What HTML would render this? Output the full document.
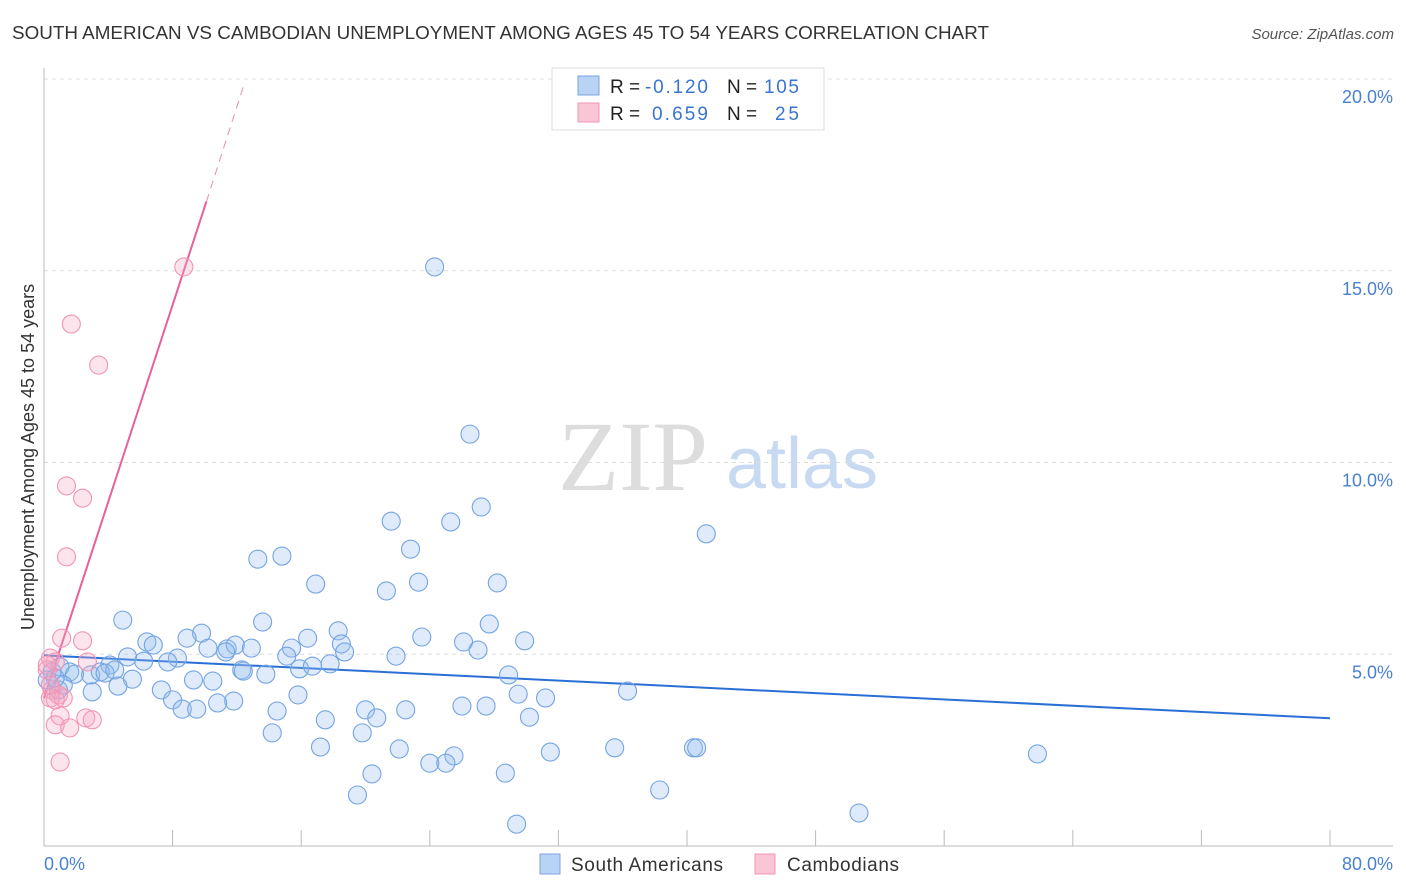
<!DOCTYPE html>
<html><head><meta charset="utf-8"><style>
body{margin:0;background:#fff;font-family:"Liberation Sans",sans-serif;}
svg{display:block}
</style></head><body>
<svg id="chart" width="1406" height="892" font-family="Liberation Sans, sans-serif">
<text x="12" y="39" font-size="18" fill="#333" textLength="977" lengthAdjust="spacingAndGlyphs">SOUTH AMERICAN VS CAMBODIAN UNEMPLOYMENT AMONG AGES 45 TO 54 YEARS CORRELATION CHART</text>
<text x="1394" y="39" font-size="15" fill="#555" font-style="italic" text-anchor="end">Source: ZipAtlas.com</text>
<g>
<text x="633" y="490" font-size="100" fill="#ddd" font-family="Liberation Serif, serif" text-anchor="middle">ZIP</text>
<text x="802" y="488" font-size="72" fill="#c8daf2" text-anchor="middle">atlas</text>
</g>
<g id="grid"></g>
<g id="axes"></g>
<g id="trends"></g>
<g id="points"></g>
<text transform="translate(34,457) rotate(-90)" font-size="18" fill="#333" text-anchor="middle">Unemployment Among Ages 45 to 54 years</text>
<text x="44" y="870" font-size="18" fill="#4a80d0">0.0%</text>
<text x="1393" y="870" font-size="18" fill="#4a80d0" text-anchor="end">80.0%</text>
<g>
<rect x="552" y="68" width="272" height="62" fill="#fff" stroke="#ddd"/>
<rect x="578" y="76" width="21" height="19" fill="#b9d3f5" stroke="#7aa6e0"/>
<rect x="578" y="103" width="21" height="19" fill="#fac5d5" stroke="#f095b5"/>
<text x="610" y="93" font-size="19" fill="#222">R =</text><text x="645" y="93" font-size="19" fill="#3a74d0" textLength="63">-0.120</text>
<text x="727" y="93" font-size="19" fill="#222">N =</text><text x="764" y="93" font-size="19" fill="#3a74d0" textLength="35">105</text>
<text x="610" y="120" font-size="19" fill="#222">R =</text><text x="652" y="120" font-size="19" fill="#3a74d0" textLength="56">0.659</text>
<text x="727" y="120" font-size="19" fill="#222">N =</text><text x="775" y="120" font-size="19" fill="#3a74d0" textLength="24">25</text>
</g>
<g>
<rect x="540" y="854" width="20" height="20" fill="#b9d3f5" stroke="#7aa6e0"/>
<text x="571" y="871" font-size="19" fill="#333" textLength="152">South Americans</text>
<rect x="755" y="854" width="20" height="20" fill="#fac5d5" stroke="#f095b5"/>
<text x="787" y="871" font-size="19" fill="#333" textLength="112">Cambodians</text>
</g>
</svg>
<script>
const yTicks=[5,10,15,20];
const xTicks=[0,8,16,24,32,40,48,56,64,72,80];
const blueX=[24.3,26.5,21.6,25.3,27.2,41.2,22.8,13.3,14.8,16.9,21.3,23.3,28.2,4.9,13.6,27.7,18.3,9.8,8.9,6.4,6.8,29.9,23.5,26.1,16.4,18.5,15.4,10.2,11.4,11.9,12.9,11.3,18.7,27.0,21.9,15.1,8.3,5.2,6.2,7.7,4.1,17.8,15.9,16.7,12.3,12.4,13.8,28.9,0.5,1.0,1.6,1.9,2.9,3.5,3.8,4.4,5.5,9.3,10.5,4.6,7.3,3.0,36.3,29.5,31.2,15.8,8.0,11.8,10.8,8.6,9.5,14.5,20.0,22.5,26.0,27.5,17.5,20.7,30.2,14.2,19.8,17.2,22.1,35.5,40.4,40.6,31.5,25.5,61.8,24.0,25.0,20.4,28.7,38.3,19.5,50.7,29.4,0.9,1.2,0.2,0.7];
const blueY=[15.10,10.74,8.47,8.45,8.84,8.14,7.74,7.48,7.56,6.83,6.65,6.88,6.86,5.89,5.84,5.79,5.61,5.55,5.42,5.32,5.24,5.35,5.45,5.32,5.42,5.27,5.16,5.16,5.14,5.24,5.16,5.06,5.06,5.11,4.95,4.95,4.90,4.93,4.82,4.80,4.72,4.75,4.62,4.69,4.59,4.56,4.48,4.46,4.54,4.67,4.54,4.48,4.46,4.54,4.51,4.59,4.35,4.33,4.30,4.17,4.07,4.02,4.04,3.96,3.86,3.94,3.81,3.78,3.73,3.57,3.57,3.52,3.55,3.55,3.65,3.65,3.29,3.34,3.36,2.95,2.95,2.58,2.53,2.56,2.56,2.56,2.45,2.35,2.40,2.16,2.16,1.88,1.90,1.46,1.33,0.86,0.57,4.07,4.20,4.33,4.38];
const pinkX=[8.7,1.7,3.4,1.4,2.4,1.4,1.1,2.4,0.4,0.7,2.7,0.2,0.5,0.9,0.4,1.2,0.7,1.0,2.6,3.0,0.7,1.6,1.0,0.4,0.2];
const pinkY=[15.10,13.61,12.54,9.39,9.07,7.54,5.42,5.35,4.90,4.80,4.80,4.59,4.07,3.94,3.86,3.86,3.81,3.39,3.34,3.29,3.16,3.08,2.19,4.20,4.72];
const blueTrend=[[0,4.97],[80,3.33]];
const pinkTrend=[[0,3.85],[10.1,16.8]];
const pinkTrendExt=[[10.1,16.8],[12.4,19.8]];
const NS="http://www.w3.org/2000/svg";
const X=v=>44+v*16.075, Y=v=>846-v*38.35;
function mk(tag,attrs,parent){const e=document.createElementNS(NS,tag);for(const k in attrs)e.setAttribute(k,attrs[k]);parent.appendChild(e);return e;}
const grid=document.getElementById('grid'),axes=document.getElementById('axes'),tr=document.getElementById('trends'),pts=document.getElementById('points');
yTicks.forEach(t=>{
 const l=mk('line',{x1:44,x2:1393,y1:Y(t),y2:Y(t),stroke:'#ddd','stroke-dasharray':'4,4'},grid);
 
 
 const tx=mk('text',{x:1393,y:Y(t)+24,'font-size':18,fill:'#4a80d0','text-anchor':'end'},grid);
 tx.textContent=t.toFixed(1)+'%';
 
 
});
const ya=mk('line',{x1:44,x2:44,y1:68,y2:846,stroke:'#bbb'},axes);


const xa=mk('line',{x1:44,x2:1393,y1:846,y2:846,stroke:'#bbb'},axes);


xTicks.forEach(t=>{
 const l=mk('line',{x1:X(t),x2:X(t),y1:830,y2:846,stroke:'#bbb'},axes);
 
 
});
function pt(xs,ys,fill,stroke,name){for(let i=0;i<xs.length;i++){
 const c=mk('circle',{cx:X(xs[i]),cy:Y(ys[i]),r:9,fill:fill,stroke:stroke,'stroke-width':1.1},pts);
 
 
}}
pt(blueX,blueY,'rgba(150,190,240,0.3)','#74a4e2','south-american-point');
pt(pinkX,pinkY,'rgba(245,165,195,0.3)','#f095b5','cambodian-point');
const bt=mk('line',{x1:X(blueTrend[0][0]),y1:Y(blueTrend[0][1]),x2:X(blueTrend[1][0]),y2:Y(blueTrend[1][1]),stroke:'#2a6fd6','stroke-width':2},tr);


const pt1=mk('line',{x1:X(pinkTrend[0][0]),y1:Y(pinkTrend[0][1]),x2:X(pinkTrend[1][0]),y2:Y(pinkTrend[1][1]),stroke:'#e8609a','stroke-width':2},tr);


const pt2=mk('line',{x1:X(pinkTrendExt[0][0]),y1:Y(pinkTrendExt[0][1]),x2:X(pinkTrendExt[1][0]),y2:Y(pinkTrendExt[1][1]),stroke:'#eb8ab0','stroke-width':1,'stroke-dasharray':'8,6'},tr);


</script>
</body></html>
